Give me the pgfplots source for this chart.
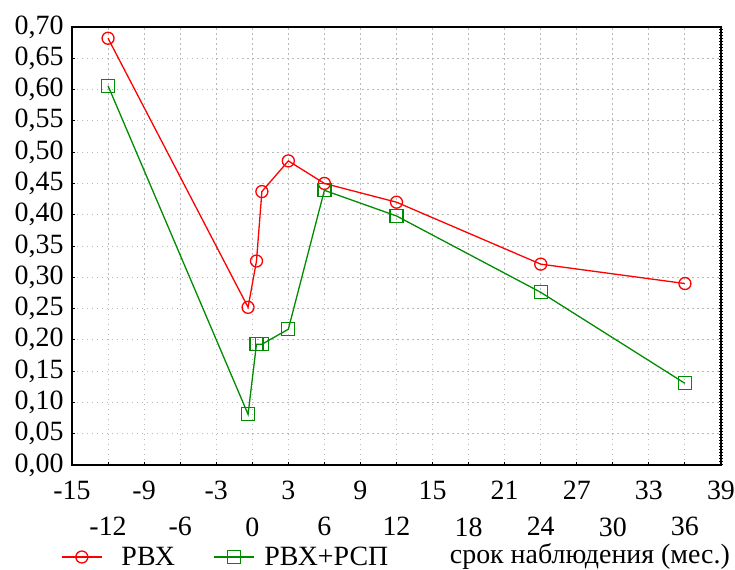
\documentclass[border=0pt]{standalone}
\usepackage{pgfplots}
\pgfplotsset{compat=1.18}
\usepackage{fontspec}
\setmainfont{Liberation Serif}
\definecolor{rvx}{RGB}{255,0,0}
\definecolor{rsp}{RGB}{0,140,0}
\definecolor{gridgray}{RGB}{185,185,185}

\begin{document}
\begin{tikzpicture}[font=\fontsize{28}{32}\selectfont]
\path[use as bounding box] (-72bp,-105bp) rectangle (663bp,465bp);
\begin{axis}[
  at={(0,0)}, anchor=south west,
  scale only axis, width=649bp, height=438bp,
  font=\fontsize{28}{32}\selectfont,
  xmin=-15, xmax=39, ymin=0, ymax=0.70,
  xtick={-15,-9,...,39},
  extra x ticks={-12,-6,...,36},
  extra x tick style={grid=major, xticklabel style={yshift=-36bp}},
  ytick={0,0.05,0.1,0.15,0.2,0.25,0.3,0.35,0.4,0.45,0.5,0.55,0.6,0.65,0.7},
  yticklabel style={xshift=-5bp, /pgf/number format/.cd, fixed, fixed zerofill, precision=2, use comma},
  /pgf/number format/assume math mode=true,
  xticklabel style={yshift=-13bp},
  grid=major,
  major grid style={gridgray, line width=0.9bp, dash pattern=on 1.5bp off 3.5bp},
  tick pos=left, tick align=inside, major tick length=3bp,
  tick style={black, line width=1bp},
  axis line style={line width=1.5bp},
  legend style={at={(rel axis cs:0,0)}, anchor=west, xshift=-11bp, yshift=-92bp,
    draw=none, fill=none, inner sep=0pt, nodes={inner sep=0pt},
    /tikz/column 1/.style={column sep=19bp},
    /tikz/column 2/.style={column sep=38bp},
    /tikz/column 3/.style={column sep=10bp}},
  legend columns=2,
  legend image code/.code={\draw[mark repeat=2,mark phase=2] plot coordinates {(0bp,0bp) (20bp,0bp) (40bp,0bp)};},
]
% РВХ
\addplot[rvx, line width=1.3bp, mark=o, mark size=6bp, mark options={solid}] coordinates {
  (-12,0.682) (-0.35,0.252) (0.35,0.326) (0.8,0.437) (3,0.486)
  (6,0.450) (12,0.420) (24,0.321) (36,0.290)};
\addlegendentry{РВХ}
% РВХ+РСП
\addplot[rsp, line width=1.3bp, mark=square, mark size=6.5bp, mark options={solid}] coordinates {
  (-12,0.606) (-0.35,0.081) (0.35,0.193) (0.8,0.193) (3,0.217)
  (6,0.439) (12,0.398) (24,0.276) (36,0.1305)};
\addlegendentry{РВХ+РСП}
\end{axis}
% thick ragged right frame
\draw[line width=1.5bp] (649bp,0) -- (649bp,438bp);
\draw[line width=4bp, dash pattern=on 1.5bp off 1.5bp] (649bp,0) -- (649bp,438bp);
% axis title, set beside the legend
\node[anchor=base east, inner sep=0pt] at (658bp,-98bp) {срок наблюдения (мес.)};
\end{tikzpicture}
\end{document}
